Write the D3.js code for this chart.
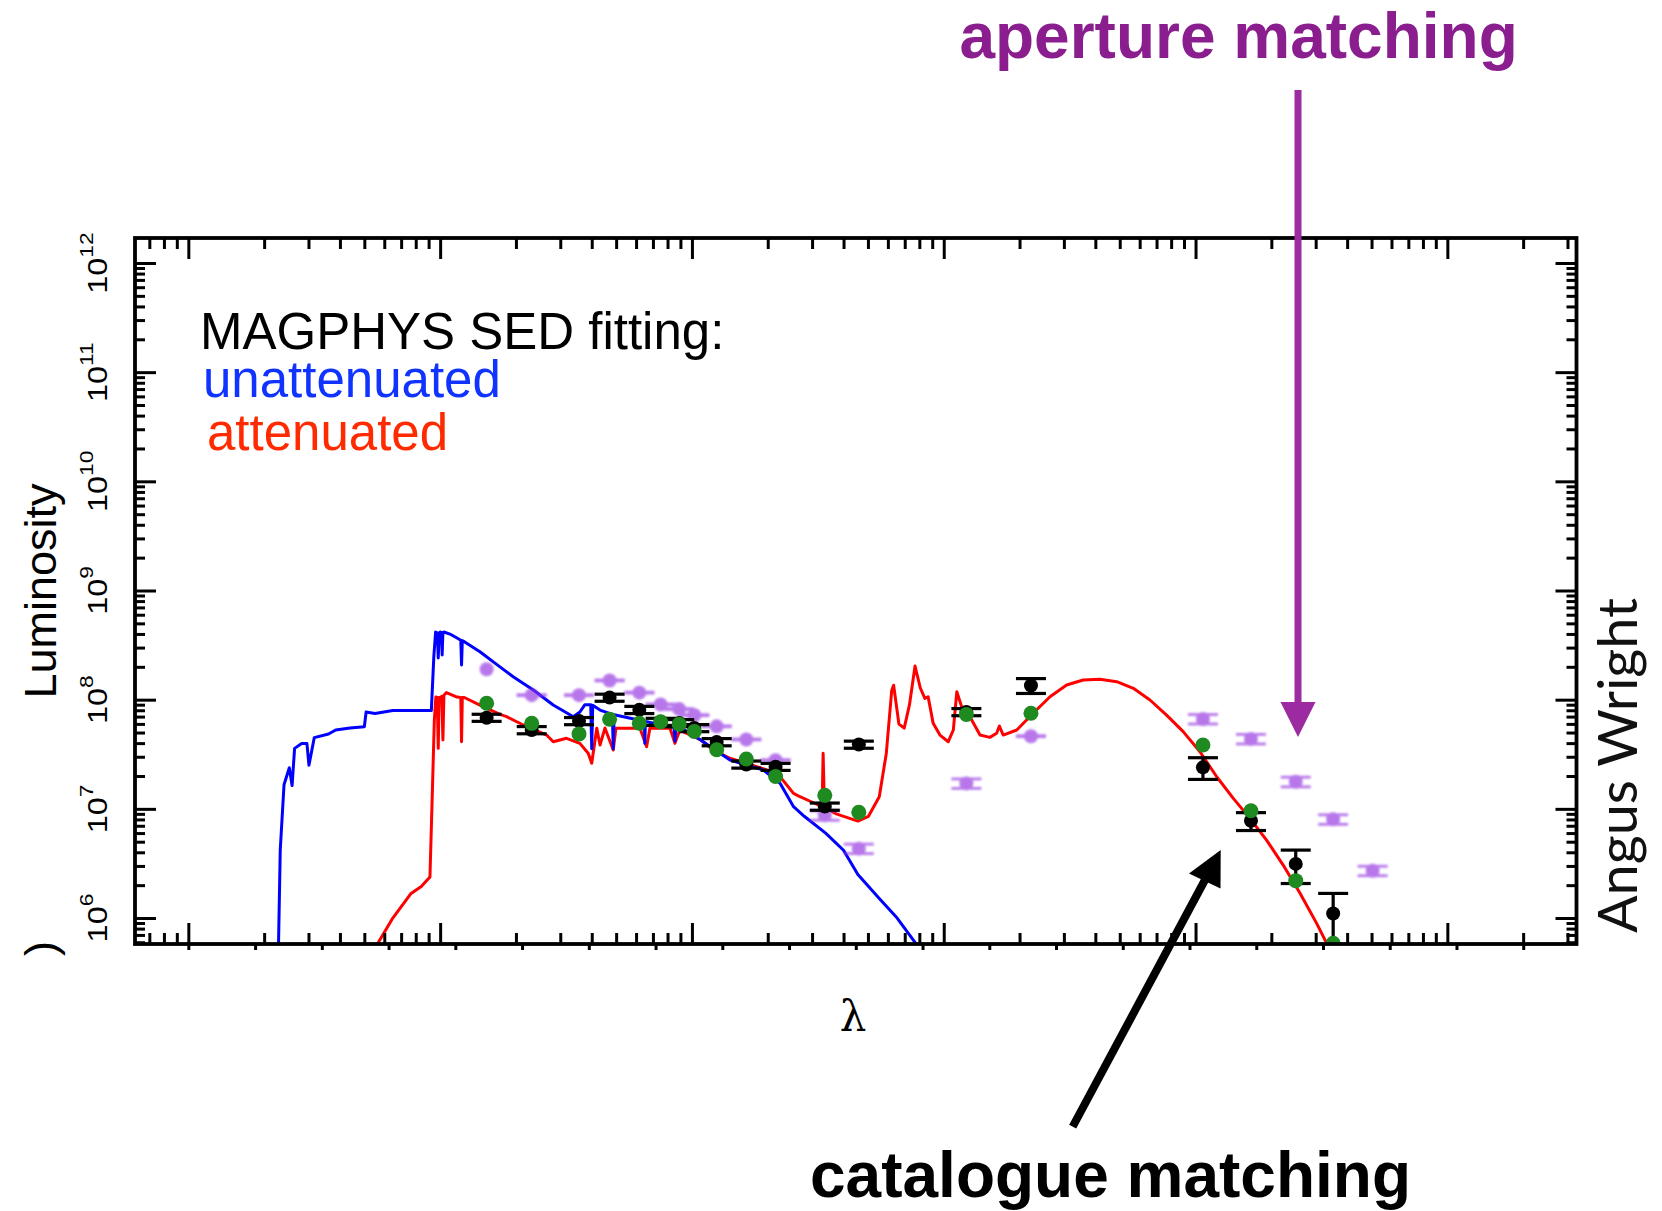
<!DOCTYPE html>
<html>
<head>
<meta charset="utf-8">
<script src="https://cdn.jsdelivr.net/npm/d3@7"></script>
<style>
  html, body { margin: 0; padding: 0; background: #fff; }
  svg { display: block; }
</style>
</head>
<body>
<svg id="chart" width="1662" height="1211"></svg>
<script>
// ---------------------------------------------------------------
// Photometric bands: observed wavelength in µm
const bands = ["FUV","NUV","u","g","r","i","z","Y","J","H","K",
               "W1","W2","W3","W4","P100","P160","S250","S350","S500"];
const bandWavelength = [0.153,0.231,0.356,0.471,0.618,0.751,0.890,1.022,1.254,1.644,2.149,
                        3.37,4.60,12.3,22.2,107,166,250,352,505];

// Catalogue-matched photometry (luminosity and 1σ error)
const catalogueL   = [6.84e7,5.27e7,6.38e7,1.045e8,8.07e7,6.28e7,6.11e7,5.50e7,4.09e7,2.55e7,2.43e7,
                      1.05e7,3.88e7,7.71e7,1.35e8,2.40e7,7.78e6,3.13e6,1.10e6,null];
const catalogueErr = [5.1e6,4.0e6,4.8e6,7.8e6,6.1e6,4.7e6,4.6e6,4.1e6,3.1e6,1.9e6,1.8e6,
                      8.0e5,2.9e6,5.8e6,2.1e7,5.4e6,1.45e6,1.06e6,5.8e5,null];

// Aperture-matched photometry (luminosity and 1σ error)
const apertureL    = [1.90e8,1.10e8,1.10e8,1.50e8,1.16e8,9.04e7,8.20e7,7.21e7,5.70e7,4.32e7,2.79e7,
                      8.73e6,4.32e6,1.71e7,4.63e7,6.65e7,4.37e7,1.77e7,8.02e6,2.71e6];
const apertureErr  = [null,1.1e6,1.1e6,1.5e6,1.2e6,9.0e5,8.2e5,7.2e5,5.7e5,4.3e5,2.8e5,
                      8.7e5,4.3e5,1.7e6,4.6e5,6.6e6,4.4e6,1.8e6,8.0e5,2.7e5];

// MAGPHYS best-fit model photometry
const modelL       = [9.27e7,6.07e7,4.86e7,6.61e7,6.08e7,6.28e7,5.97e7,5.12e7,3.48e7,2.86e7,1.98e7,
                      1.33e7,9.29e6,7.33e7,7.50e7,3.85e7,9.62e6,2.20e6,5.86e5,null];

// Best-fit SEDs: [log10(λ/µm), log10(L)]
const unattenuatedSED = [
  [-1.643,5.615],[-1.635,6.623],[-1.620,7.221],[-1.599,7.376],[-1.588,7.213],[-1.578,7.554],
  [-1.550,7.598],[-1.529,7.598],[-1.521,7.399],[-1.500,7.652],[-1.443,7.686],[-1.415,7.722],
  [-1.358,7.740],[-1.301,7.753],[-1.294,7.887],[-1.259,7.874],[-1.188,7.900],[-1.117,7.900],
  [-1.035,7.900],[-1.025,8.397],[-1.018,8.620],[-1.011,8.611],[-1.0075,8.382],[-1.004,8.611],
  [-0.999,8.620],[-0.995,8.615],[-0.992,8.409],[-0.989,8.615],[-0.985,8.620],[-0.961,8.601],
  [-0.933,8.565],[-0.918,8.545],[-0.915,8.318],[-0.912,8.540],[-0.904,8.531],[-0.842,8.439],
  [-0.7625,8.300],[-0.710,8.210],[-0.630,8.088],[-0.551,7.951],[-0.471,7.844],[-0.445,7.887],
  [-0.425,7.954],[-0.402,7.954],[-0.398,7.550],[-0.394,7.950],[-0.365,7.905],[-0.316,7.865],
  [-0.3125,7.550],[-0.309,7.862],[-0.189,7.802],[-0.187,7.600],[-0.185,7.800],[-0.071,7.745],
  [-0.0675,7.620],[-0.064,7.742],[-0.036,7.731],[0.035,7.630],[0.085,7.550],[0.151,7.447],
  [0.217,7.400],[0.284,7.356],[0.350,7.234],[0.4035,7.020],[0.446,6.932],[0.531,6.777],
  [0.602,6.621],[0.659,6.399],[0.744,6.178],[0.815,6.000],[0.886,5.777],[0.925,5.661]
];
const attenuatedSED = [
  [-1.271,5.615],[-1.245,5.777],[-1.188,6.000],[-1.117,6.222],[-1.075,6.289],[-1.0405,6.376],
  [-1.032,7.065],[-1.023,7.814],[-1.017,8.024],[-1.0115,8.020],[-1.0075,7.554],[-1.004,8.020],
  [-1.001,8.020],[-0.993,8.030],[-0.989,7.630],[-0.985,8.040],[-0.975,8.065],[-0.933,8.024],
  [-0.918,8.020],[-0.915,7.615],[-0.912,8.020],[-0.904,8.020],[-0.842,7.951],[-0.7625,7.865],
  [-0.736,7.844],[-0.670,7.768],[-0.577,7.676],[-0.551,7.615],[-0.498,7.646],[-0.445,7.600],
  [-0.412,7.509],[-0.398,7.417],[-0.378,7.738],[-0.365,7.585],[-0.3455,7.740],[-0.3125,7.539],
  [-0.302,7.738],[-0.2065,7.738],[-0.180,7.569],[-0.167,7.738],[-0.087,7.738],[-0.0675,7.600],
  [-0.048,7.722],[0.035,7.631],[0.085,7.539],[0.151,7.463],[0.217,7.417],[0.297,7.356],
  [0.350,7.294],[0.4035,7.142],[0.429,7.111],[0.474,7.065],[0.517,7.021],[0.521,7.510],
  [0.526,7.017],[0.573,6.954],[0.659,6.888],[0.701,6.932],[0.744,7.110],[0.772,7.510],
  [0.7935,8.087],[0.801,8.132],[0.822,7.776],[0.843,7.740],[0.864,7.954],[0.886,8.308],
  [0.907,8.107],[0.925,8.012],[0.938,8.027],[0.958,7.783],[0.985,7.676],[1.018,7.615],
  [1.038,7.722],[1.052,8.073],[1.071,7.936],[1.104,7.844],[1.144,7.676],[1.183,7.655],
  [1.210,7.692],[1.221,7.759],[1.236,7.676],[1.290,7.722],[1.355,7.875],[1.422,8.027],
  [1.488,8.134],[1.554,8.180],[1.620,8.187],[1.687,8.165],[1.753,8.104],[1.819,7.997],
  [1.885,7.859],[1.951,7.707],[2.0175,7.523],[2.084,7.294],[2.150,7.096],[2.216,6.913],
  [2.282,6.714],[2.348,6.485],[2.415,6.226],[2.481,5.951],[2.521,5.768],[2.542,5.661]
];

// Instrument boundaries (µm)
const instrumentBreaks = [0.29, 0.885, 2.77, 65];

// Axis ticks
const yDecades = [6, 7, 8, 9, 10, 11, 12];
const xDecades = [0.01, 0.1, 1, 10, 100, 1000];

// ---------------------------------------------------------------
const svg = d3.select("#chart");
const plot = { left: 135, right: 1576.5, top: 238, bottom: 944 };

const x = d3.scaleLog().domain([0.00614, 3258]).range([plot.left, plot.right]);
const y = d3.scaleLog().domain([5.781e5, 1.694e12]).range([plot.bottom, plot.top]);

const minorTicks = (scale, lo, hi) => {
  const out = [];
  const [d0, d1] = scale.domain();
  for (let n = lo; n <= hi; n++) for (let k = 2; k <= 9; k++) {
    const v = k * Math.pow(10, n);
    if (v > d0 && v < d1) out.push(v);
  }
  return out;
};
const xMinor = minorTicks(x, -3, 3);
const yMinor = minorTicks(y, 5, 12);
const xOuter = d3.range(21).map(k => Math.pow(10, -2 + k * 0.26507));

const defs = svg.append("defs");
defs.append("clipPath").attr("id", "plotClip")
  .append("rect")
  .attr("x", plot.left).attr("y", plot.top)
  .attr("width", plot.right - plot.left).attr("height", plot.bottom - plot.top);
defs.append("filter").attr("id", "soft")
  .append("feGaussianBlur").attr("stdDeviation", 0.8);
defs.append("filter").attr("id", "softer")
  .append("feGaussianBlur").attr("stdDeviation", 0.4);

const body = svg.append("g").attr("clip-path", "url(#plotClip)");

// instrument boundaries
body.selectAll("line.break").data(instrumentBreaks).join("line")
  .attr("class", "break")
  .attr("x1", d => x(d)).attr("x2", d => x(d))
  .attr("y1", plot.top).attr("y2", plot.bottom)
  .attr("stroke", "#b8b8b8").attr("stroke-width", 4)
  .attr("stroke-dasharray", "17,10")
  .attr("filter", "url(#softer)");

// SED curves
const sedLine = d3.line()
  .x(d => x(Math.pow(10, d[0])))
  .y(d => y(Math.pow(10, d[1])));

body.append("path").datum(attenuatedSED)
  .attr("d", sedLine).attr("fill", "none")
  .attr("stroke", "#ff0000").attr("stroke-width", 3).attr("stroke-linejoin", "round");
body.append("path").datum(unattenuatedSED)
  .attr("d", sedLine).attr("fill", "none")
  .attr("stroke", "#0000ff").attr("stroke-width", 3).attr("stroke-linejoin", "round");

// photometry rows
const rows = bands.map((b, i) => ({
  band: b, lam: bandWavelength[i],
  cat: catalogueL[i], catErr: catalogueErr[i],
  ap: apertureL[i], apErr: apertureErr[i],
  model: modelL[i]
}));

const capHalf = 15;
function drawErrors(g, data, val, err, colour, width) {
  const d = data.filter(r => r[val] != null && r[err] != null);
  const lo = r => Math.max(r[val] - r[err], 1e5);
  g.selectAll("line.stem").data(d).join("line").attr("class", "stem")
    .attr("x1", r => x(r.lam)).attr("x2", r => x(r.lam))
    .attr("y1", r => y(lo(r))).attr("y2", r => y(r[val] + r[err]))
    .attr("stroke", colour).attr("stroke-width", width);
  ["hi", "lo"].forEach(side => {
    g.selectAll("line.cap" + side).data(d).join("line").attr("class", "cap" + side)
      .attr("x1", r => x(r.lam) - capHalf).attr("x2", r => x(r.lam) + capHalf)
      .attr("y1", r => y(side === "hi" ? r[val] + r[err] : lo(r)))
      .attr("y2", r => y(side === "hi" ? r[val] + r[err] : lo(r)))
      .attr("stroke", colour).attr("stroke-width", width);
  });
}

// aperture matching (purple, translucent)
const apG = body.append("g").attr("opacity", 0.68).attr("filter", "url(#soft)");
drawErrors(apG, rows, "ap", "apErr", "rgb(150,55,225)", 2.8);
apG.selectAll("circle").data(rows.filter(r => r.ap != null)).join("circle")
  .attr("cx", r => x(r.lam)).attr("cy", r => y(r.ap)).attr("r", 7)
  .attr("fill", "rgb(150,55,225)");

// catalogue matching (black)
const catG = body.append("g");
drawErrors(catG, rows, "cat", "catErr", "#000", 3.2);
catG.selectAll("circle").data(rows.filter(r => r.cat != null)).join("circle")
  .attr("cx", r => x(r.lam)).attr("cy", r => y(r.cat)).attr("r", 7)
  .attr("fill", "#000");

// model photometry (green)
body.append("g").selectAll("circle").data(rows.filter(r => r.model != null)).join("circle")
  .attr("cx", r => x(r.lam)).attr("cy", r => y(r.model)).attr("r", 7.5)
  .attr("fill", "#1f8a1f");

// ---------------------------------------------------------------
// Axes: inward ticks on all four sides
const axisStyle = g => {
  g.select(".domain").remove();
  g.selectAll(".tick line").attr("stroke", "#000").attr("stroke-width", 3);
  g.selectAll(".tick text").remove();
};
const addAxis = (gen, tx, ty, values, size) => {
  svg.append("g").attr("transform", `translate(${tx},${ty})`)
    .call(gen.tickValues(values).tickSize(size).tickFormat(""))
    .call(axisStyle);
};
addAxis(d3.axisBottom(x), 0, plot.bottom, xDecades, -21);
addAxis(d3.axisBottom(x), 0, plot.bottom, xMinor, -11);
addAxis(d3.axisBottom(x), 0, plot.bottom, xOuter, 6);
addAxis(d3.axisTop(x), 0, plot.top, xDecades, -21);
addAxis(d3.axisTop(x), 0, plot.top, xMinor, -11);
addAxis(d3.axisLeft(y), plot.left, 0, yDecades.map(e => Math.pow(10, e)), -21);
addAxis(d3.axisLeft(y), plot.left, 0, yMinor, -10);
addAxis(d3.axisRight(y), plot.right, 0, yDecades.map(e => Math.pow(10, e)), -21);
addAxis(d3.axisRight(y), plot.right, 0, yMinor, -10);

svg.append("rect")
  .attr("x", plot.left).attr("y", plot.top)
  .attr("width", plot.right - plot.left).attr("height", plot.bottom - plot.top)
  .attr("fill", "none").attr("stroke", "#000").attr("stroke-width", 3.8);

// y tick labels (rotated powers of ten)
const sans = "'Liberation Sans', Arial, Helvetica, sans-serif";
yDecades.forEach(e => {
  const t = svg.append("text")
    .attr("transform", `translate(107,${y(Math.pow(10, e))}) rotate(-90) scale(1.2,1)`)
    .attr("text-anchor", "middle")
    .attr("font-family", sans).attr("font-size", 27).attr("fill", "#000");
  t.append("tspan").text("10");
  t.append("tspan").attr("font-size", 19).attr("dy", -14).text(e);
});

// axis titles
svg.append("text")
  .attr("transform", "translate(56,591) rotate(-90)")
  .attr("text-anchor", "middle")
  .attr("font-family", sans).attr("font-size", 45).attr("fill", "#000")
  .text("Luminosity");
svg.append("text")
  .attr("transform", "translate(56,956) rotate(-90)")
  .attr("font-family", sans).attr("font-size", 45).attr("fill", "#000")
  .text(")");
svg.append("text")
  .attr("x", 853).attr("y", 1031)
  .attr("text-anchor", "middle")
  .attr("font-family", "'DejaVu Serif', 'Liberation Serif', serif")
  .attr("font-size", 42).attr("fill", "#000")
  .text("λ");

// legend
svg.append("text").attr("x", 200).attr("y", 348.5)
  .attr("font-family", sans).attr("font-size", 51).attr("fill", "#000")
  .text("MAGPHYS SED fitting:");
svg.append("text").attr("x", 203).attr("y", 397)
  .attr("font-family", sans).attr("font-size", 51).attr("fill", "#1033ff")
  .text("unattenuated");
svg.append("text").attr("x", 207).attr("y", 450)
  .attr("font-family", sans).attr("font-size", 51).attr("fill", "#ff2a00")
  .text("attenuated");

// author credit
svg.append("text")
  .attr("transform", "translate(1637,765.5) rotate(-90)")
  .attr("text-anchor", "middle")
  .attr("font-family", "Lato, 'Open Sans', sans-serif").attr("font-weight", 400)
  .attr("font-size", 54).attr("fill", "#111")
  .attr("textLength", 335).attr("lengthAdjust", "spacingAndGlyphs")
  .text("Angus Wright");

// annotations
const purple = "#9c2aa0";
svg.append("text").attr("x", 1238.6).attr("y", 58)
  .attr("text-anchor", "middle")
  .attr("font-family", sans).attr("font-weight", 700).attr("font-size", 64)
  .attr("fill", "#8b1e8e")
  .text("aperture matching");
svg.append("line")
  .attr("x1", 1298).attr("x2", 1298).attr("y1", 90).attr("y2", 705)
  .attr("stroke", purple).attr("stroke-width", 7);
svg.append("path")
  .attr("d", "M1280.5,702 L1315.5,702 L1298,737 Z")
  .attr("fill", purple);

svg.append("text").attr("x", 1110.5).attr("y", 1197)
  .attr("text-anchor", "middle")
  .attr("font-family", sans).attr("font-weight", 700).attr("font-size", 64)
  .attr("fill", "#000")
  .text("catalogue matching");
svg.append("line")
  .attr("x1", 1072.7).attr("y1", 1126.7).attr("x2", 1206).attr("y2", 878)
  .attr("stroke", "#000").attr("stroke-width", 8);
svg.append("path")
  .attr("d", "M1189,873.5 L1220.7,850 L1220.5,888.5 Z")
  .attr("fill", "#000");
</script>
</body>
</html>
